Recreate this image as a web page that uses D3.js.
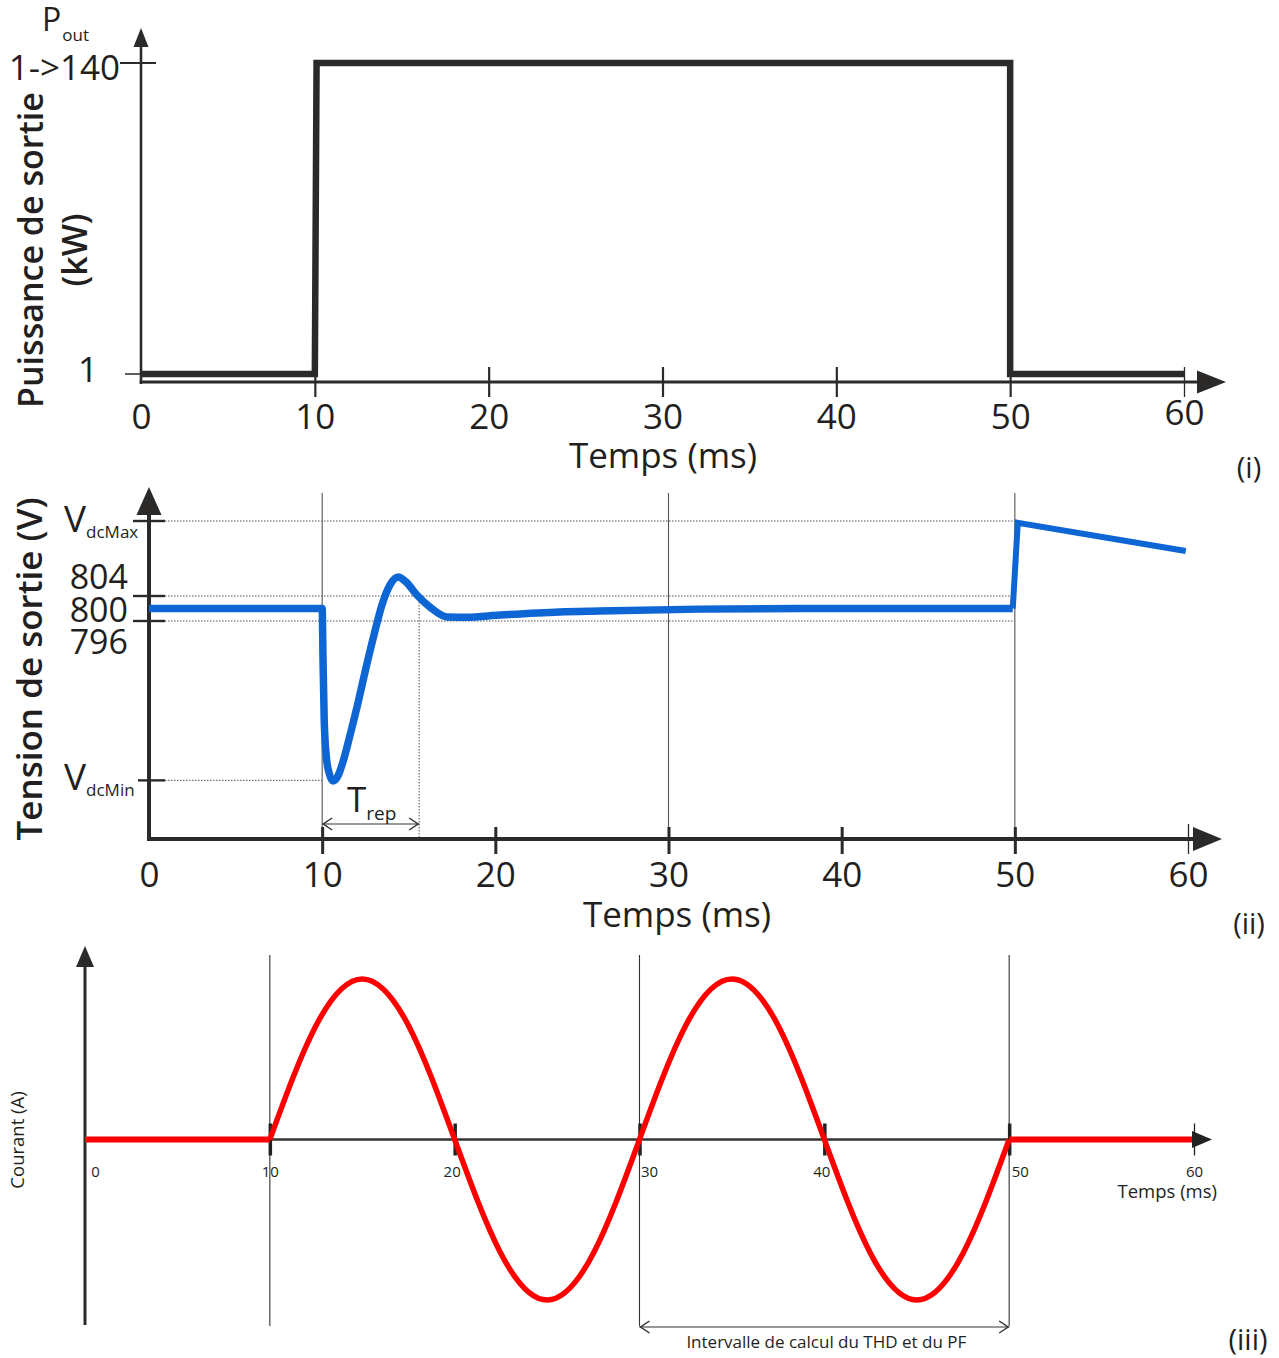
<!DOCTYPE html>
<html><head><meta charset="utf-8">
<script src="https://cdn.jsdelivr.net/npm/d3@7"></script>
<style>
body{margin:0;background:#fff;}
svg{display:block;font-family:"Open Sans",sans-serif;}
</style></head><body>
<svg id="c" width="1279" height="1358"></svg>
<script>
// ---------------- DATA ----------------
const timeTicks = [0, 10, 20, 30, 40, 50, 60];
const timeLabels = ["0", "10", "20", "30", "40", "50", "60"];

// (i) output power (kW)
const powerTime = [0, 10, 10.1, 50, 50, 60];
const powerKW = [1, 1, 140, 140, 1, 1];
const powerTicks = [1, 140];
const powerTickLabels = ["1", "1->140"];

// (ii) output voltage (V)
const voltTime = [0, 10, 10.05, 10.12, 10.25, 10.42, 10.62, 10.91, 11.2, 11.61, 12.07, 12.53, 12.99, 13.45, 13.91, 14.38, 14.84, 15.47, 16.22, 17.21, 18.36, 20.27, 23.7, 26.0, 31.8, 37.6, 49.88];
const voltV = [800, 800, 783.5, 764, 752, 747, 744.8, 746.4, 750.9, 759.5, 769.8, 781.0, 791.5, 801.1, 807.5, 810.1, 808.5, 804.3, 800.5, 797.3, 797.2, 797.9, 798.9, 799.2, 799.8, 800, 800];
const voltTailTime = [49.88, 50.17, 59.87];
const voltTailV = [800, 827.4, 818.4];
const vdcMax = 828, vdcMin = 745;
const bandLevels = [804, 796];
const levelLabels = ["804", "800", "796"];
const levelValues = [804, 800, 796];
const gridTimesV = [10, 30, 50];
const tRep = [10, 15.6];

// (iii) current (normalised)
const currBeforeTime = [0, 10];
const currBefore = [0, 0];
const sineTime = [10, 12.5, 15, 17.5, 20, 22.5, 25, 27.5, 30, 32.5, 35, 37.5, 40, 42.5, 45, 47.5, 50];
const sineA = [0, 0.71, 1, 0.71, 0, -0.71, -1, -0.71, 0, 0.71, 1, 0.71, 0, -0.71, -1, -0.71, 0];
const currAfterTime = [50, 60];
const currAfter = [0, 0];
const gridTimesI = [10, 30, 50];
const intervalTHD = [30, 50];

// ---------------- DRAW ----------------
const svg = d3.select("#c");
const INK = "#2b2a29", TXT = "#231f20";

function tri(x, y, dir, len, w) { // filled arrowhead, tip at x,y
  if (dir === "up") return `M${x},${y}L${x - w / 2},${y + len}L${x + w / 2},${y + len}Z`;
  return `M${x},${y}L${x - len},${y - w / 2}L${x - len},${y + w / 2}Z`;
}
function chevron(x, y, dir) {
  const s = dir === "left" ? 1 : -1;
  return `M${x + s * 9},${y - 6}L${x},${y}L${x + s * 9},${y + 6}`;
}

// ===== Panel (i) =====
const xP = d3.scaleLinear([0, 60], [141, 1184]);
const yP = d3.scaleLinear([1, 140], [374, 63]);
const axP = 382;

svg.append("line").attr("x1", 141).attr("x2", 141).attr("y1", 384).attr("y2", 44)
  .attr("stroke", INK).attr("stroke-width", 2.6);
svg.append("path").attr("d", tri(141, 28, "up", 19, 15)).attr("fill", INK);
svg.append("line").attr("x1", 139.7).attr("x2", 1200).attr("y1", axP).attr("y2", axP)
  .attr("stroke", INK).attr("stroke-width", 3);
svg.append("path").attr("d", tri(1226, axP, "right", 29, 23)).attr("fill", INK);

const gxP = svg.append("g").attr("transform", `translate(0,${axP})`)
  .call(d3.axisBottom(xP).tickValues(timeTicks).tickFormat((d, i) => timeLabels[i]).tickSize(15));
gxP.select(".domain").remove();
gxP.selectAll(".tick line").attr("y1", d => d === 0 ? 0 : -15).attr("y2", d => d === 0 ? 0 : 15)
  .attr("stroke", INK).attr("stroke-width", d => d === 60 ? 1.3 : 2.2);
gxP.selectAll(".tick text").attr("y", d => d === 60 ? 43 : 47).attr("dy", null)
  .attr("font-size", 35).attr("fill", TXT).attr("font-family", "Open Sans");

svg.append("line").attr("x1", 120).attr("x2", 156).attr("y1", yP(140)).attr("y2", yP(140))
  .attr("stroke", INK).attr("stroke-width", 2);
svg.append("line").attr("x1", 125).attr("x2", 141).attr("y1", yP(1)).attr("y2", yP(1))
  .attr("stroke", INK).attr("stroke-width", 1.5);
svg.append("text").attr("x", 120).attr("y", yP(140) + 17).attr("text-anchor", "end")
  .attr("font-size", 35).attr("fill", TXT).text(powerTickLabels[1]);
svg.append("text").attr("x", 98).attr("y", yP(1) + 8).attr("text-anchor", "end")
  .attr("font-size", 35).attr("fill", TXT).text(powerTickLabels[0]);

const pout = svg.append("text").attr("x", 42).attr("y", 31).attr("font-size", 32).attr("fill", TXT);
pout.append("tspan").text("P");
pout.append("tspan").attr("font-size", 17).attr("dy", 10).attr("dx", 1).text("out");

const powerPts = powerTime.map((t, i) => [t, powerKW[i]]);
svg.append("path").datum(powerPts)
  .attr("d", d3.line().x(d => xP(d[0])).y(d => yP(d[1])))
  .attr("fill", "none").attr("stroke", INK).attr("stroke-width", 6.5).attr("stroke-linejoin", "miter");

svg.append("text").attr("transform", "translate(43,250) rotate(-90)").attr("text-anchor", "middle")
  .attr("font-size", 34).attr("font-weight", 600).attr("fill", TXT).text("Puissance de sortie");
svg.append("text").attr("transform", "translate(87,250) rotate(-90)").attr("text-anchor", "middle")
  .attr("font-size", 34).attr("font-weight", 600).attr("fill", TXT).text("(kW)");
svg.append("text").attr("x", 663).attr("y", 468).attr("text-anchor", "middle")
  .attr("font-size", 35).attr("fill", TXT).text("Temps (ms)");
svg.append("text").attr("x", 1249).attr("y", 478).attr("text-anchor", "middle")
  .attr("font-size", 29).attr("fill", TXT).text("(i)");

// ===== Panel (ii) =====
const xV = d3.scaleLinear([0, 60], [149, 1188]);
const yV = d3.scaleLinear([796, 804], [621, 596]);
const axV = 839;

svg.selectAll(".gv").data(gridTimesV).enter().append("line")
  .attr("x1", d => xV(d)).attr("x2", d => xV(d)).attr("y1", 493).attr("y2", axV)
  .attr("stroke", "#555").attr("stroke-width", 1.1);

const dot = { stroke: "#555", "stroke-width": 1, "stroke-dasharray": "1.5,1.5" };
function dotted(x1, x2, y1, y2) {
  const l = svg.append("line").attr("x1", x1).attr("x2", x2).attr("y1", y1).attr("y2", y2);
  Object.entries(dot).forEach(([k, v]) => l.attr(k, v));
}
dotted(165, xV(50), yV(vdcMax), yV(vdcMax));
bandLevels.forEach(v => dotted(165, xV(50), yV(v), yV(v)));
dotted(165, xV(10), yV(vdcMin), yV(vdcMin));
dotted(xV(tRep[1]), xV(tRep[1]), yV(804), axV);

svg.append("line").attr("x1", 149).attr("x2", 149).attr("y1", axV + 2).attr("y2", 512)
  .attr("stroke", INK).attr("stroke-width", 4);
svg.append("path").attr("d", tri(149, 487, "up", 28, 25)).attr("fill", INK);
svg.append("line").attr("x1", 147).attr("x2", 1196).attr("y1", axV).attr("y2", axV)
  .attr("stroke", INK).attr("stroke-width", 4);
svg.append("path").attr("d", tri(1222, axV, "right", 29, 24)).attr("fill", INK);

const gxV = svg.append("g").attr("transform", `translate(0,${axV})`)
  .call(d3.axisBottom(xV).tickValues(timeTicks).tickFormat((d, i) => timeLabels[i]).tickSize(15));
gxV.select(".domain").remove();
gxV.selectAll(".tick line").attr("y1", d => d === 0 ? 0 : (d === 60 ? -15 : -12)).attr("y2", d => d === 0 ? 0 : 15)
  .attr("stroke", INK).attr("stroke-width", d => d === 60 ? 1.3 : 3);
gxV.selectAll(".tick text").attr("y", 48).attr("dy", null)
  .attr("font-size", 35).attr("fill", TXT).attr("font-family", "Open Sans");

[vdcMax, ...bandLevels].forEach(v => svg.append("line").attr("x1", 133).attr("x2", 165)
  .attr("y1", yV(v)).attr("y2", yV(v)).attr("stroke", INK).attr("stroke-width", 2.4));
svg.append("line").attr("x1", 138).attr("x2", 165).attr("y1", yV(vdcMin)).attr("y2", yV(vdcMin))
  .attr("stroke", INK).attr("stroke-width", 2.4);

const lvlOff = [-7, 13.5, 33];
levelValues.forEach((v, i) => svg.append("text").attr("x", 128).attr("y", yV(v) + lvlOff[i])
  .attr("text-anchor", "end").attr("font-size", 34).attr("fill", TXT).text(levelLabels[i]));

function vsub(x, y, sub) {
  const t = svg.append("text").attr("x", x).attr("y", y).attr("font-size", 37).attr("fill", TXT);
  t.append("tspan").text("V");
  t.append("tspan").attr("font-size", 17).attr("dy", 6).attr("dx", 0).text(sub);
}
vsub(64, yV(vdcMax) + 11, "dcMax");
vsub(64, yV(vdcMin) + 10, "dcMin");

const yTrep = 824;
svg.append("line").attr("x1", xV(tRep[0])).attr("x2", xV(tRep[1])).attr("y1", yTrep).attr("y2", yTrep)
  .attr("stroke", "#333").attr("stroke-width", 1.2);
svg.append("path").attr("d", chevron(xV(tRep[0]) + 1, yTrep, "left")).attr("fill", "none").attr("stroke", "#333").attr("stroke-width", 1.5);
svg.append("path").attr("d", chevron(xV(tRep[1]) - 1, yTrep, "right")).attr("fill", "none").attr("stroke", "#333").attr("stroke-width", 1.5);
const tr = svg.append("text").attr("x", 347).attr("y", 812).attr("font-size", 35).attr("fill", TXT);
tr.append("tspan").text("T");
tr.append("tspan").attr("font-size", 19).attr("dy", 8).attr("dx", 0).text("rep");

const voltPts = voltTime.map((t, i) => [t, voltV[i]]);
const tailPts = voltTailTime.map((t, i) => [t, voltTailV[i]]);
svg.append("path").datum(voltPts)
  .attr("d", d3.line().x(d => xV(d[0])).y(d => yV(d[1])).curve(d3.curveMonotoneX))
  .attr("fill", "none").attr("stroke", "#0e66d4").attr("stroke-width", 7.5);
svg.append("path").datum(tailPts)
  .attr("d", d3.line().x(d => xV(d[0])).y(d => yV(d[1])))
  .attr("fill", "none").attr("stroke", "#0e66d4").attr("stroke-width", 6).attr("stroke-linejoin", "miter");

svg.append("text").attr("transform", "translate(42,669) rotate(-90)").attr("text-anchor", "middle")
  .attr("font-size", 35).attr("font-weight", 600).attr("fill", TXT).text("Tension de sortie (V)");
svg.append("text").attr("x", 677).attr("y", 927).attr("text-anchor", "middle")
  .attr("font-size", 35).attr("fill", TXT).text("Temps (ms)");
svg.append("text").attr("x", 1249).attr("y", 934).attr("text-anchor", "middle")
  .attr("font-size", 29).attr("fill", TXT).text("(ii)");

// ===== Panel (iii) =====
const xI = d3.scaleLinear([0, 60], [85, 1194]);
const yI = d3.scaleLinear([-1, 1], [1300, 979]);
const axI = yI(0);

svg.selectAll(".gi").data(gridTimesI).enter().append("line")
  .attr("x1", d => xI(d)).attr("x2", d => xI(d)).attr("y1", 955).attr("y2", 1326)
  .attr("stroke", "#333").attr("stroke-width", 1.1);

svg.append("line").attr("x1", 85).attr("x2", 85).attr("y1", 1325).attr("y2", 964)
  .attr("stroke", INK).attr("stroke-width", 3);
svg.append("path").attr("d", tri(85, 946, "up", 21, 18)).attr("fill", INK);
svg.append("line").attr("x1", 85).attr("x2", 1196).attr("y1", axI).attr("y2", axI)
  .attr("stroke", "#333").attr("stroke-width", 2.5);

const gxI = svg.append("g").attr("transform", `translate(0,${axI})`)
  .call(d3.axisBottom(xI).tickValues(timeTicks).tickFormat((d, i) => timeLabels[i]).tickSize(16));
gxI.select(".domain").remove();
gxI.selectAll(".tick line").attr("y1", d => d === 0 ? 0 : -16).attr("y2", d => d === 0 ? 0 : 16)
  .attr("stroke", "#222").attr("stroke-width", d => d === 60 ? 1.3 : 3.5);
const lblDx = [10, 0, -3, 1, -3, 2, 0];
const lblAnchor = ["middle", "middle", "middle", "start", "middle", "start", "middle"];
gxI.selectAll(".tick text").attr("y", 37).attr("dy", null)
  .attr("x", (d, i) => lblDx[i]).attr("text-anchor", (d, i) => lblAnchor[i])
  .attr("font-size", 15).attr("fill", TXT).attr("font-family", "Open Sans");

const lineI = d3.line().x(d => xI(d[0])).y(d => yI(d[1]));
const RED = "#ff0000";
svg.append("path").datum(currBeforeTime.map((t, i) => [t, currBefore[i]]))
  .attr("d", lineI).attr("fill", "none").attr("stroke", RED).attr("stroke-width", 6);
svg.append("path").datum(currAfterTime.map((t, i) => [t, currAfter[i]]))
  .attr("d", lineI).attr("fill", "none").attr("stroke", RED).attr("stroke-width", 6);
svg.append("path").datum(sineTime.map((t, i) => [t, sineA[i]]))
  .attr("d", lineI.curve(d3.curveNatural)).attr("fill", "none").attr("stroke", RED).attr("stroke-width", 5.5);

svg.append("path").attr("d", tri(1212, axI, "right", 20, 17)).attr("fill", "#222");

const yInt = 1327;
svg.append("line").attr("x1", xI(intervalTHD[0])).attr("x2", xI(intervalTHD[1])).attr("y1", yInt).attr("y2", yInt)
  .attr("stroke", "#333").attr("stroke-width", 1.2);
svg.append("path").attr("d", chevron(xI(intervalTHD[0]) + 1, yInt, "left")).attr("fill", "none").attr("stroke", "#333").attr("stroke-width", 1.5);
svg.append("path").attr("d", chevron(xI(intervalTHD[1]) - 1, yInt, "right")).attr("fill", "none").attr("stroke", "#333").attr("stroke-width", 1.5);
svg.append("text").attr("x", (xI(intervalTHD[0]) + xI(intervalTHD[1])) / 2 + 2).attr("y", 1348)
  .attr("text-anchor", "middle").attr("font-size", 17).attr("fill", TXT).text("Intervalle de calcul du THD et du PF");

svg.append("text").attr("x", 1217).attr("y", 1198).attr("text-anchor", "end")
  .attr("font-size", 18.5).attr("fill", TXT).text("Temps (ms)");
svg.append("text").attr("transform", "translate(24,1140) rotate(-90)").attr("text-anchor", "middle")
  .attr("font-size", 18.5).attr("fill", TXT).text("Courant (A)");
svg.append("text").attr("x", 1248).attr("y", 1350).attr("text-anchor", "middle")
  .attr("font-size", 29).attr("fill", TXT).text("(iii)");
</script>
</body></html>
